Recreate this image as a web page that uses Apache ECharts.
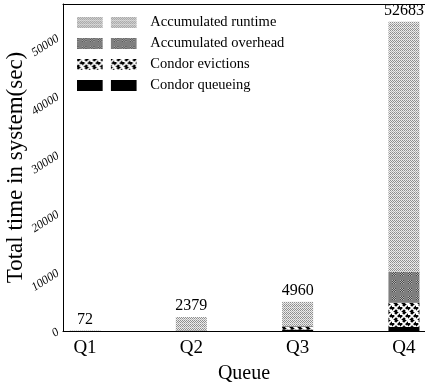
<!DOCTYPE html>
<html>
<head>
<meta charset="utf-8">
<script src="https://cdn.jsdelivr.net/npm/echarts@6/dist/echarts.min.js"></script>
<style>
html,body{margin:0;padding:0;background:#fff;}
#c{width:425px;height:388px;}
</style>
</head>
<body>
<div id="c"></div>
<script>
var categories = ['Q1', 'Q2', 'Q3', 'Q4'];
var totals = [72, 2379, 4960, 52683];
var runtime = [60, 2290, 4060, 42583];
var overhead = [12, 50, 200, 5300];
var evictions = [0, 0, 450, 4100];
var queueing = [0, 39, 250, 700];
var yTicks = [0, 10000, 20000, 30000, 40000, 50000];

function tile(w, h, draw) {
  var c = document.createElement('canvas');
  c.width = w; c.height = h;
  var g = c.getContext('2d');
  draw(g);
  return { image: c, repeat: 'repeat' };
}
var patRuntime = tile(4, 4, function (g) {
  g.fillStyle = '#ececec'; g.fillRect(0, 0, 4, 4);
  g.fillStyle = '#8e8e8e';
  g.fillRect(0, 0, 1, 1); g.fillRect(2, 0, 1, 1);
  g.fillRect(1, 1, 1, 1); g.fillRect(3, 1, 1, 1);
  g.fillRect(0, 2, 1, 1); g.fillRect(2, 2, 1, 1);
  g.fillStyle = '#b4b4b4';
  g.fillRect(1, 3, 1, 1); g.fillRect(3, 3, 1, 1);
});
var patOverhead = tile(8, 8, function (g) {
  g.fillStyle = '#7e7e7e'; g.fillRect(0, 0, 8, 8);
  for (var y = 0; y < 4; y++) for (var x = 0; x < 4; x++) {
    g.fillStyle = ((x + y) % 2) ? '#4a4a4a' : '#b0b0b0';
    g.fillRect(x, y, 1, 1);
  }
});
var patEvict = tile(8, 8, function (g) {
  g.fillStyle = '#000'; g.fillRect(0, 0, 8, 8);
  g.strokeStyle = '#fff'; g.lineWidth = 1.6;
  g.beginPath();
  g.moveTo(-1, -1); g.lineTo(9, 9);
  g.moveTo(9, -1); g.lineTo(-1, 9);
  g.moveTo(3, -1); g.lineTo(-1, 3);
  g.moveTo(9, 5); g.lineTo(5, 9);
  g.stroke();
});

var serif = 'Liberation Serif';
// value first, category index second (so the value column is the stacked one)
function pts(arr) { return arr.map(function (v, i) { return [v, i]; }); }

var chart = echarts.init(document.getElementById('c'), null, { renderer: 'canvas' });
var barW = 31;
var swatch = 'path://M0,0H28V12H0Z M37,0H65V12H37Z';

function barSeries(name, arr, color, extra) {
  var s = { name: name, type: 'bar', stack: 't', barWidth: barW, data: pts(arr),
    encode: { x: 1, y: 0 }, itemStyle: { color: color } };
  if (extra) for (var k in extra) s[k] = extra[k];
  return s;
}

chart.setOption({
  animation: false,
  backgroundColor: '#fff',
  grid: { left: 63, right: 0, top: 4, bottom: 57, outerBoundsMode: 'none', containLabel: false },
  legend: {
    orient: 'vertical',
    left: 72, top: 10,
    itemWidth: 65, itemHeight: 11, itemGap: 6,
    icon: swatch,
    data: ['Accumulated runtime', 'Accumulated overhead', 'Condor evictions', 'Condor queueing'],
    textStyle: { fontFamily: serif, fontSize: 14.5, color: '#000', padding: [0, 0, 0, 6] },
    selectedMode: false
  },
  xAxis: [{
    type: 'value', min: -0.207, max: 3.198, position: 'bottom',
    name: 'Queue', nameLocation: 'middle', nameGap: 33,
    nameTextStyle: { fontFamily: serif, fontSize: 20, color: '#000' },
    axisLine: { show: true, onZero: false, lineStyle: { color: '#000', width: 1 } },
    axisTick: { show: false },
    splitLine: { show: false },
    axisLabel: {
      customValues: [0, 1, 2, 3],
      formatter: function (v) { return categories[Math.round(v)]; },
      fontFamily: serif, fontSize: 19, color: '#000', margin: 8
    }
  }, {
    type: 'value', min: -0.207, max: 3.198, position: 'top',
    axisLine: { show: true, onZero: false, lineStyle: { color: '#000', width: 1 } },
    axisTick: { show: false }, axisLabel: { show: false }, splitLine: { show: false }
  }],
  yAxis: {
    type: 'value', min: 0, max: 55700, interval: 10000,
    name: 'Total time in system(sec)', nameLocation: 'middle', nameGap: 36,
    nameMoveOverlap: false,
    nameTextStyle: { fontFamily: serif, fontSize: 23, color: '#000' },
    axisLine: { show: true, onZero: false, lineStyle: { color: '#000', width: 1 } },
    axisTick: { show: false },
    splitLine: { show: false },
    axisLabel: {
      customValues: yTicks,
      formatter: function (v) { return String(v); },
      rotate: 33, fontFamily: serif, fontStyle: 'italic', fontSize: 12, color: '#000', margin: 5
    }
  },
  series: [
    barSeries('Condor queueing', queueing, '#000'),
    barSeries('Condor evictions', evictions, patEvict),
    barSeries('Accumulated overhead', overhead, patOverhead),
    barSeries('Accumulated runtime', runtime, patRuntime, {
      label: { show: true, position: 'top', distance: 3,
        formatter: function (p) { return String(totals[p.dataIndex]); },
        fontFamily: serif, fontSize: 16, color: '#000' }
    })
  ]
});
</script>
</body>
</html>
